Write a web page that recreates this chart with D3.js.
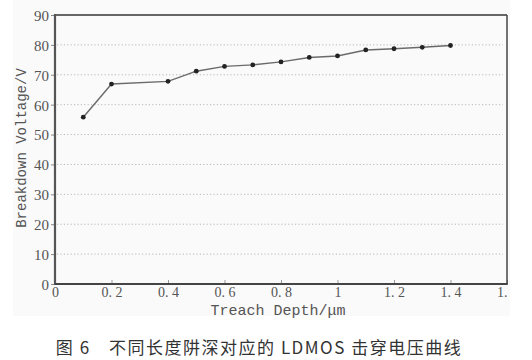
<!DOCTYPE html>
<html><head><meta charset="utf-8">
<script src="https://cdn.jsdelivr.net/npm/d3@7"></script>
<style>html,body{margin:0;padding:0;background:#fff;}svg{display:block;}</style>
</head><body>
<svg id="c" width="532" height="360"></svg>
<script>
const depth = [0.1, 0.2, 0.4, 0.5, 0.6, 0.7, 0.8, 0.9, 1.0, 1.1, 1.2, 1.3, 1.4];
const voltage = [55.8, 66.9, 67.8, 71.2, 72.8, 73.3, 74.3, 75.8, 76.3, 78.3, 78.7, 79.2, 79.8];
const xTicks = [0, 0.2, 0.4, 0.6, 0.8, 1, 1.2, 1.4, 1.6];
const xTickLabels = ["0", "0. 2", "0. 4", "0. 6", "0. 8", "1", "1. 2", "1. 4", "1. 6"];
const yTicks = [0, 10, 20, 30, 40, 50, 60, 70, 80, 90];
const xTitle = "Treach Depth/\u03bcm";
const yTitle = "Breakdown Voltage/V";
const caption = "图 6　不同长度阱深对应的 LDMOS 击穿电压曲线";

const SERIF = "'Liberation Serif', 'DejaVu Serif', serif";
const MONO = "'Liberation Mono', 'DejaVu Sans Mono', monospace";

const svg = d3.select("#c");
const L = 55, R = 507, T = 15, B = 284;
const x = d3.scaleLinear().domain([0, 1.6]).range([L, R]);
const y = d3.scaleLinear().domain([0, 90]).range([B, T]);

// faint figure background
svg.append("rect").attr("x", 13).attr("y", 0).attr("width", 497).attr("height", 316).attr("fill", "#fafafa");

// grid
svg.append("g").selectAll("line").data(yTicks.filter(v => v > 0 && v < 90)).join("line")
  .attr("x1", L + 2).attr("x2", R - 4).attr("y1", d => y(d)).attr("y2", d => y(d))
  .attr("stroke", "#b8b8b8").attr("stroke-width", 1).attr("stroke-dasharray", "1.2,2.2");

// y axis
const yAxis = d3.axisLeft(y).tickValues(yTicks).tickSize(4).tickPadding(2).tickFormat(d3.format("d"));
const gy = svg.append("g").attr("transform", `translate(${L},0)`).call(yAxis);
gy.select(".domain").remove();
gy.selectAll("line").attr("stroke", "#888");
gy.selectAll("text").attr("font-family", SERIF).attr("font-size", 15).attr("fill", "#555").attr("dy", "0.36em");

// x axis
const xAxis = d3.axisBottom(x).tickValues(xTicks).tickSize(-4).tickPadding(3).tickFormat((d, i) => xTickLabels[i]);
const gx = svg.append("g").attr("transform", `translate(0,${B})`).call(xAxis);
gx.select(".domain").remove();
gx.selectAll("line").attr("stroke", "#999");
gx.selectAll("text").attr("font-family", SERIF).attr("font-size", 14).attr("fill", "#555").attr("dy", "0.71em");

// clip last label at figure edge
svg.append("rect").attr("x", 510).attr("y", 285).attr("width", 22).attr("height", 30).attr("fill", "#fff");

// frame
svg.append("line").attr("x1", L).attr("x2", R).attr("y1", T).attr("y2", T).attr("stroke", "#666").attr("stroke-width", 2);
svg.append("line").attr("x1", R).attr("x2", R).attr("y1", T).attr("y2", B).attr("stroke", "#444").attr("stroke-width", 1.5);
svg.append("line").attr("x1", L).attr("x2", L).attr("y1", T - 1).attr("y2", B + 1).attr("stroke", "#555").attr("stroke-width", 2.2);
svg.append("line").attr("x1", L).attr("x2", R + 0.75).attr("y1", B).attr("y2", B).attr("stroke", "#444").attr("stroke-width", 2);

// line
const data = depth.map((d, i) => [d, voltage[i]]);
svg.append("path").datum(data)
  .attr("d", d3.line().x(d => x(d[0])).y(d => y(d[1])))
  .attr("fill", "none").attr("stroke", "#6a6a6a").attr("stroke-width", 1.4);
svg.append("g").selectAll("circle").data(data).join("circle")
  .attr("cx", d => x(d[0])).attr("cy", d => y(d[1])).attr("r", 2.4).attr("fill", "#222");

// titles
svg.append("text").attr("x", 278).attr("y", 315).attr("text-anchor", "middle")
  .attr("font-family", MONO).attr("font-size", 15).attr("fill", "#555").text(xTitle);
svg.append("text").attr("transform", "translate(26,148) rotate(-90)").attr("text-anchor", "middle")
  .attr("font-family", MONO).attr("font-size", 14).attr("fill", "#555").text(yTitle);

// caption
svg.append("text").attr("x", 259).attr("y", 354).attr("text-anchor", "middle")
  .attr("font-family", "'Noto Sans CJK SC', sans-serif").attr("font-size", 17).attr("letter-spacing", 1.5)
  .attr("fill", "#333").text(caption);
</script>
</body></html>
